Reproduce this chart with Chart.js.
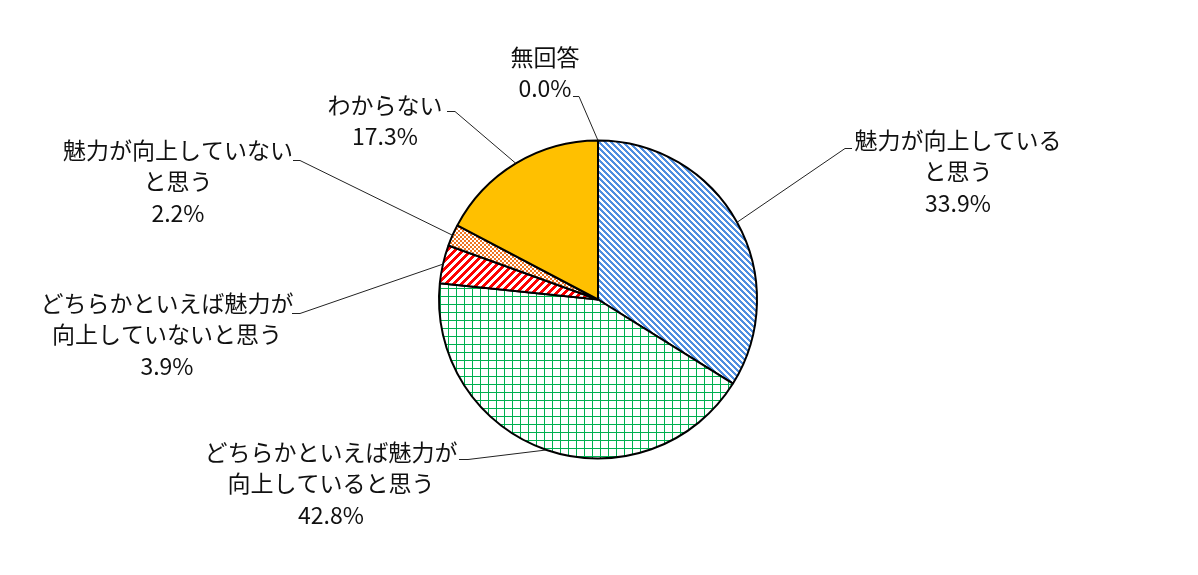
<!DOCTYPE html>
<html>
<head>
<meta charset="utf-8">
<script src="https://cdn.jsdelivr.net/npm/chart.js@4/dist/chart.umd.min.js"></script>
<style>
  html, body { margin: 0; padding: 0; background: #fff; }
  #wrap { width: 1198px; height: 575px; }
</style>
</head>
<body>
<div id="wrap"><canvas id="chart" width="1198" height="575"></canvas></div>
<script>
// data, clockwise from 12 o'clock
const categories = [
  ['魅力が向上している', 'と思う'],
  ['どちらかといえば魅力が', '向上していると思う'],
  ['どちらかといえば魅力が', '向上していないと思う'],
  ['魅力が向上していない', 'と思う'],
  ['わからない'],
  ['無回答'],
];
const shares = [33.9, 42.8, 3.9, 2.2, 17.3, 0.0];

// label text centre, first line y, and leader elbow
const labelPos = [
  { x: 958, y: 140, hx0: 852, hx1: 845, hy: 148 },
  { x: 331, y: 452, hx0: 459, hx1: 468, hy: 459 },
  { x: 167, y: 303, hx0: 292, hx1: 300, hy: 313 },
  { x: 178, y: 150, hx0: 293, hx1: 300, hy: 160 },
  { x: 385, y: 105, hx0: 447, hx1: 455, hy: 111 },
  { x: 545, y: 57, hx0: 573, hx1: 579, hy: 96 },
];

function tile(size, draw) {
  const c = document.createElement('canvas');
  c.width = size; c.height = size;
  const g = c.getContext('2d');
  g.fillStyle = '#fff';
  g.fillRect(0, 0, size, size);
  draw(g, size);
  return document.getElementById('chart').getContext('2d').createPattern(c, 'repeat');
}

// pixel stripes, w pixels wide per row
function stripes(color, w, down) {
  return (g, s) => {
    g.fillStyle = color;
    for (let y = 0; y < s; y++) {
      const x0 = down ? y : s - 1 - y;
      for (let k = 0; k < w; k++) g.fillRect((x0 + k) % s, y, 1, 1);
    }
  };
}

const fills = [
  tile(6, stripes('#4f8ee0', 3, true)),
  tile(8, (g, s) => {
    g.fillStyle = '#00b050';
    g.fillRect(0, 0, s, 1);
    g.fillRect(0, 0, 1, s);
  }),
  tile(8, stripes('#ff0000', 4, false)),
  tile(4, (g) => {
    g.fillStyle = '#ee7420';
    g.fillRect(0, 0, 2, 2);
    g.fillRect(2, 2, 2, 2);
  }),
  '#ffc000',
  '#ffffff',
];

const labelPlugin = {
  id: 'pieLabels',
  afterDraw(chart) {
    const ctx = chart.ctx;
    const arcs = chart.getDatasetMeta(0).data;
    ctx.save();
    ctx.font = '23px "Noto Sans CJK JP", "Noto Sans", sans-serif';
    ctx.fillStyle = '#111';
    ctx.textAlign = 'center';
    ctx.textBaseline = 'middle';
    categories.forEach((lines, i) => {
      const p = labelPos[i];
      const all = lines.concat([shares[i].toFixed(1) + '%']);
      all.forEach((t, j) => ctx.fillText(t, p.x, p.y + j * 31.5));

      const a = arcs[i];
      const mid = (a.startAngle + a.endAngle) / 2;
      const ex = a.x + Math.cos(mid) * a.outerRadius;
      const ey = a.y + Math.sin(mid) * a.outerRadius;
      ctx.strokeStyle = '#222';
      ctx.lineWidth = 1;
      ctx.beginPath();
      ctx.moveTo(p.hx0, p.hy + 0.5);
      ctx.lineTo(p.hx1, p.hy + 0.5);
      ctx.lineTo(ex, ey);
      ctx.stroke();
    });
    ctx.restore();
  }
};

new Chart(document.getElementById('chart'), {
  type: 'pie',
  data: {
    labels: categories.map(l => l.join('')),
    datasets: [{
      data: shares,
      backgroundColor: fills,
      borderColor: '#000',
      borderWidth: 2,
      hoverOffset: 0,
    }]
  },
  options: {
    responsive: false,
    animation: false,
    radius: 159,
    layout: { padding: { left: 439, right: 441, top: 140, bottom: 116 } },
    plugins: {
      legend: { display: false },
      tooltip: { enabled: false },
    },
    events: [],
  },
  plugins: [labelPlugin],
});
</script>
</body>
</html>
